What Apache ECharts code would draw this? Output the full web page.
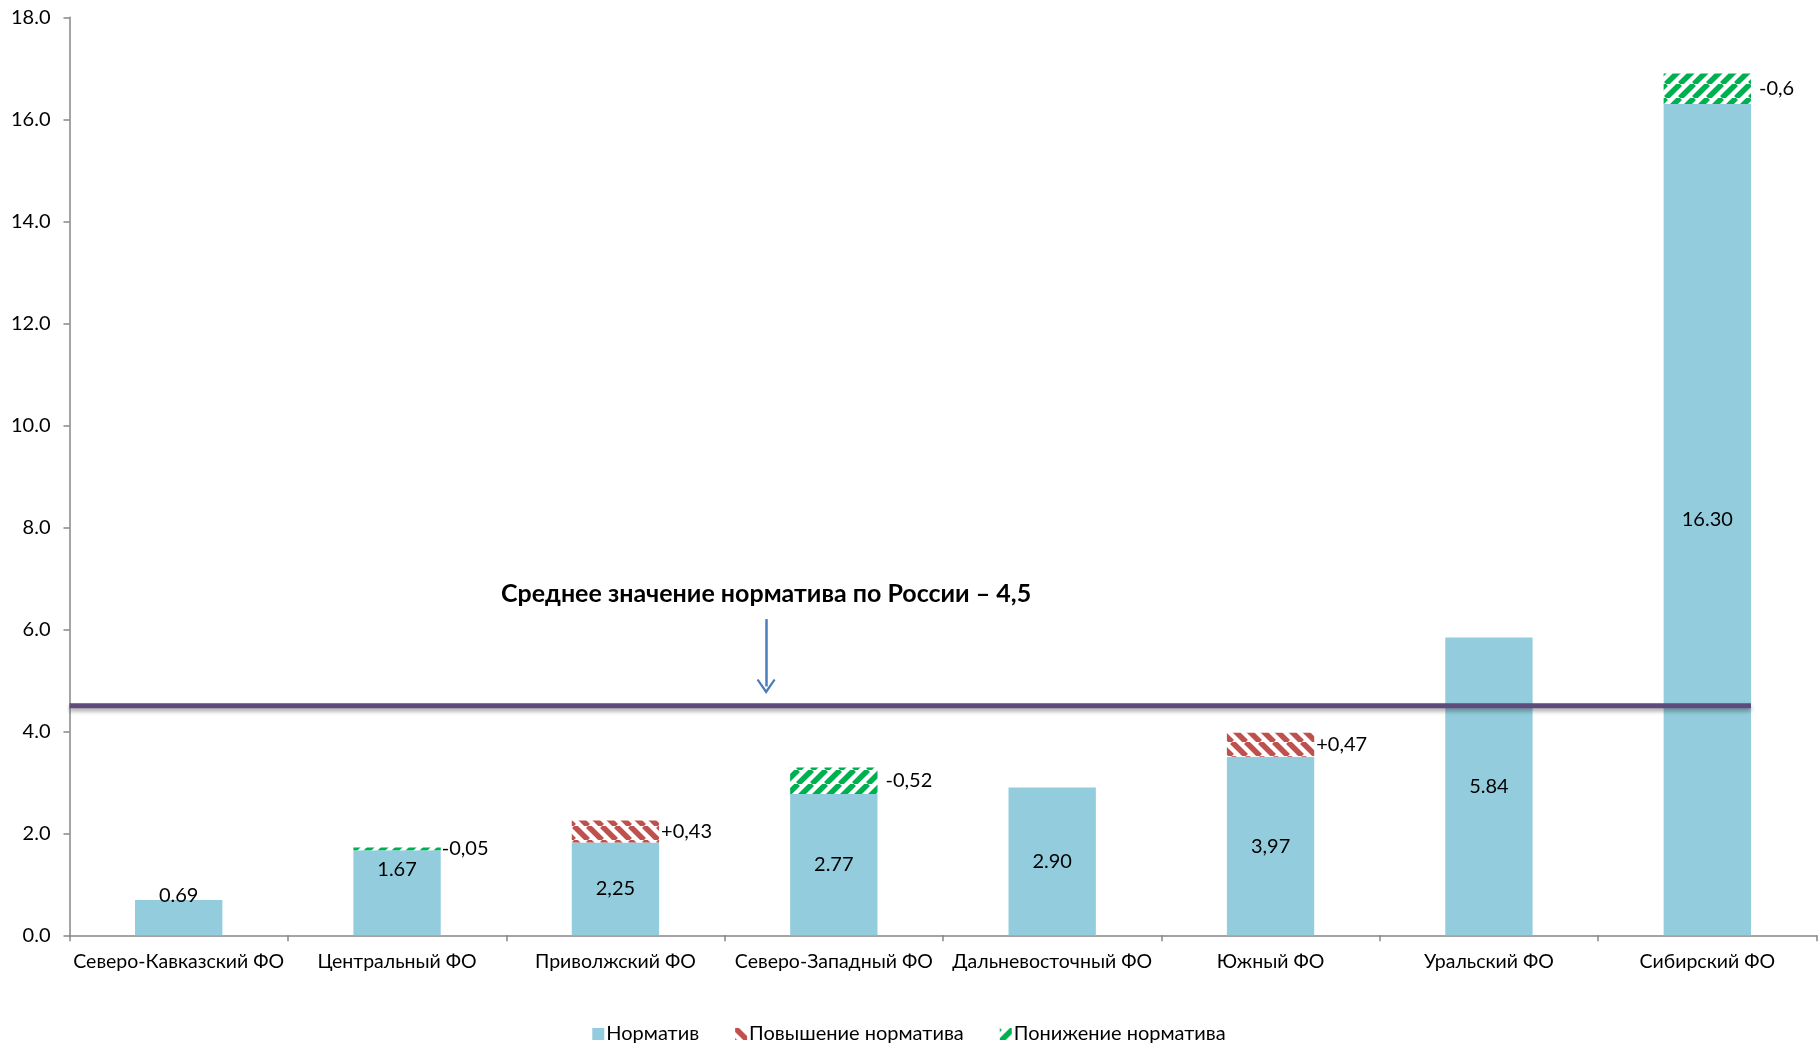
<!DOCTYPE html>
<html>
<head>
<meta charset="utf-8">
<script src="https://cdn.jsdelivr.net/npm/echarts@6/dist/echarts.min.js"></script>
<style>
html,body{margin:0;padding:0;background:#fff;}
#chart{width:1818px;height:1044px;}
</style>
</head>
<body>
<div id="chart"></div>
<script>
// ---- data ----
const categories = ['Северо-Кавказский ФО','Центральный ФО','Приволжский ФО','Северо-Западный ФО','Дальневосточный ФО','Южный ФО','Уральский ФО','Сибирский ФО'];
const baseValues = [0.69, 1.67, 1.82, 2.77, 2.90, 3.50, 5.84, 16.30];
const baseLabels = ['0.69', '1.67', '2,25', '2.77', '2.90', '3,97', '5.84', '16.30'];
const increaseValues = [null, null, 0.43, null, null, 0.47, null, null];
const increaseLabels = ['', '', '+0,43', '', '', '+0,47', '', ''];
const decreaseValues = [null, 0.05, null, 0.52, null, null, null, 0.6];
const decreaseLabels = ['', '-0,05', '', '-0,52', '', '', '', '-0,6'];
const averageValue = 4.5;
const averageText = 'Среднее значение норматива по России – 4,5';
const seriesNames = ['Норматив', 'Повышение норматива', 'Понижение норматива'];
const yMin = 0, yMax = 18, yStep = 2;

// ---- annotation placement (in axis units) ----
const avgLineSpan = [0, 7.7];
const arrowX = 3.19, arrowTop = 6.2, arrowTip = 4.88;
const textY = 6.69;

const FONT = 'Lato';

function makeHatch(color, dir) {
  const s = 14;
  const c = document.createElement('canvas');
  c.width = s; c.height = s;
  const ctx = c.getContext('2d');
  ctx.fillStyle = '#ffffff';
  ctx.fillRect(0, 0, s, s);
  ctx.strokeStyle = color;
  ctx.lineWidth = 5.5;
  ctx.beginPath();
  for (let k = -s; k <= s; k += s) {
    if (dir === 'back') { ctx.moveTo(k, 0); ctx.lineTo(k + s, s); }
    else { ctx.moveTo(k, s); ctx.lineTo(k + s, 0); }
  }
  ctx.stroke();
  return { image: c, repeat: 'repeat' };
}

const blue = '#93cddd';
const redHatch = makeHatch('#c0504d', 'back');
const greenHatch = makeHatch('#00b050', 'fwd');

const basePos = ['top', 'insideTop', 'inside', 'inside', 'inside', 'inside', 'inside', 'inside'];
const baseDist = [-5, 9, 5, 5, 5, 5, 5, 5];
const baseData = baseValues.map((v, i) => ({
  value: v,
  label: { show: true, position: basePos[i], distance: baseDist[i], formatter: baseLabels[i] }
}));
const incData = increaseValues.map((v, i) => ({
  value: v,
  label: { show: v != null, position: 'right', distance: 2, formatter: increaseLabels[i] }
}));
const decDist = [0, 1, 0, 8, 0, 0, 0, 8];
const decData = decreaseValues.map((v, i) => ({
  value: v,
  label: { show: v != null, position: 'right', distance: decDist[i], formatter: decreaseLabels[i] }
}));

const chart = echarts.init(document.getElementById('chart'), null, { renderer: 'canvas' });
const labelStyle = { color: '#000', fontFamily: FONT, fontSize: 20 };

chart.setOption({
  animation: false,
  textStyle: { fontFamily: FONT },
  grid: { left: 69.5, right: 1.5, top: 17.3, bottom: 108.7, containLabel: false },
  legend: {
    top: 1019, left: 'center',
    data: seriesNames,
    itemWidth: 12, itemHeight: 12, itemGap: 36,
    icon: 'rect',
    textStyle: { color: '#000', fontFamily: FONT, fontSize: 20, padding: [0, 0, 0, -3] }
  },
  xAxis: [{
    type: 'category',
    data: categories,
    axisLine: { lineStyle: { color: '#868686', width: 1.5 } },
    axisTick: { show: true, length: 6, lineStyle: { color: '#868686', width: 1.5 } },
    axisLabel: { color: '#000', fontFamily: FONT, fontSize: 19.5, margin: 16, interval: 0 }
  }, {
    type: 'value', min: 0, max: 8, show: false
  }],
  yAxis: {
    type: 'value', min: yMin, max: yMax, interval: yStep,
    axisLine: { show: true, lineStyle: { color: '#868686', width: 1.5 } },
    axisTick: { show: true, length: 6, lineStyle: { color: '#868686', width: 1.5 } },
    splitLine: { show: false },
    axisLabel: { color: '#000', fontFamily: FONT, fontSize: 20, margin: 19, formatter: v => v.toFixed(1) }
  },
  series: [{
    name: seriesNames[0], type: 'bar', stack: 'total', barWidth: '40%',
    itemStyle: { color: blue },
    label: labelStyle,
    data: baseData
  }, {
    name: seriesNames[1], type: 'bar', stack: 'total', barWidth: '40%',
    itemStyle: { color: redHatch },
    label: labelStyle,
    data: incData
  }, {
    name: seriesNames[2], type: 'bar', stack: 'total', barWidth: '40%',
    itemStyle: { color: greenHatch },
    label: labelStyle,
    data: decData
  }, {
    name: 'avg', type: 'line', xAxisIndex: 1,
    symbol: 'none', silent: true,
    lineStyle: { color: '#5f4a7c', width: 5, shadowColor: 'rgba(0,0,0,0.35)', shadowBlur: 4, shadowOffsetY: 3 },
    data: [[avgLineSpan[0], averageValue], [avgLineSpan[1], averageValue]],
    markLine: {
      silent: true, animation: false,
      symbol: ['none', 'path://M0,12 L6,0 L12,12 L10.8,12.9 L6,3.6 L1.2,12.9 Z'],
      symbolSize: [19, 15],
      lineStyle: { color: '#4a7ebb', width: 2.5, type: 'solid' },
      label: { show: false },
      data: [[{ coord: [arrowX, arrowTop] }, { coord: [arrowX, arrowTip] }]]
    },
    markPoint: {
      silent: true, symbol: 'circle', symbolSize: 0,
      label: { show: true, position: 'inside', formatter: averageText, color: '#000', fontFamily: FONT, fontSize: 25, fontWeight: 'bold' },
      data: [{ coord: [arrowX, textY] }]
    }
  }]
});
</script>
</body>
</html>
